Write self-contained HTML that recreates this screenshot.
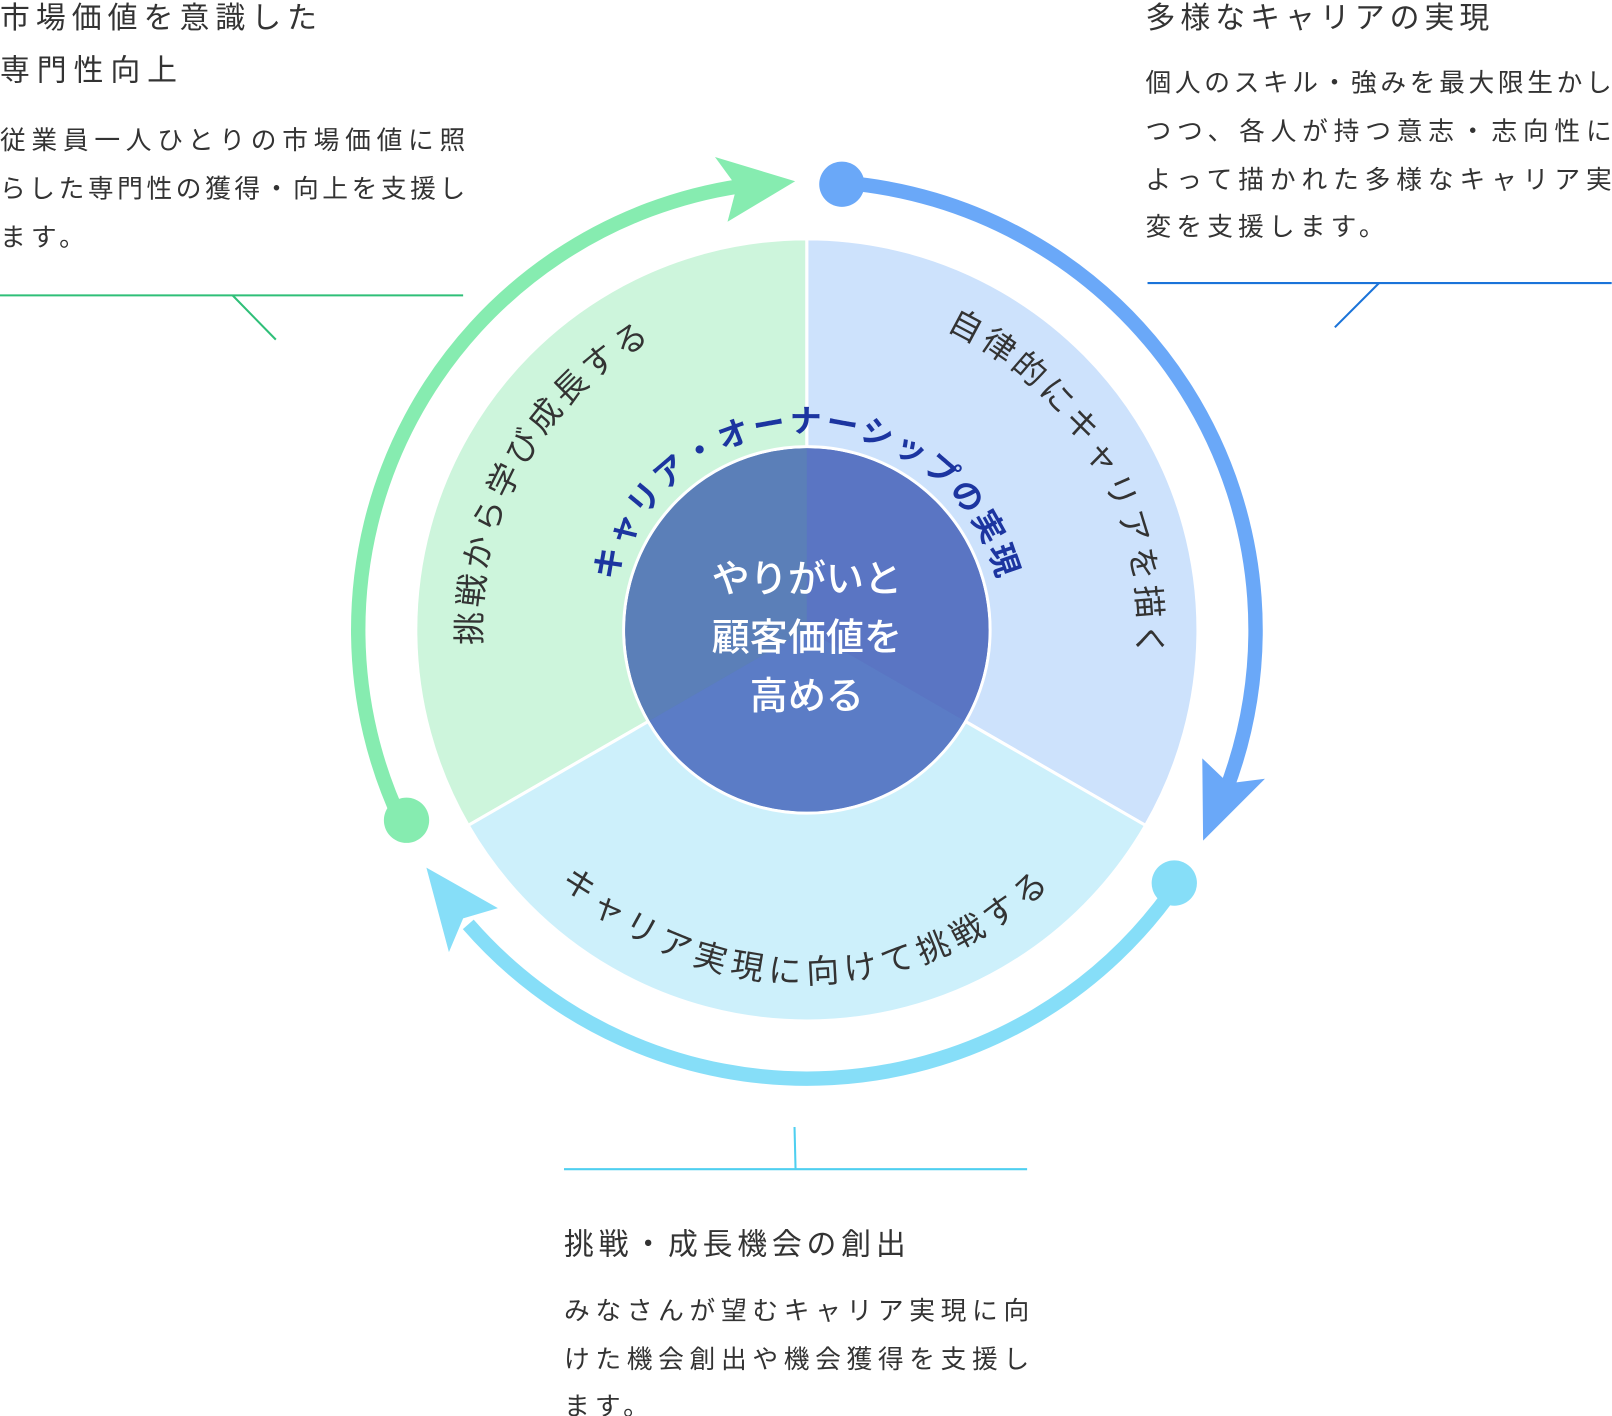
<!DOCTYPE html>
<html><head><meta charset="utf-8"><style>
html,body{margin:0;padding:0;background:#fff;}
svg{display:block;}
text{font-family:"Liberation Sans","Noto Sans CJK JP",sans-serif;}
</style></head><body>
<svg width="1612" height="1416" viewBox="0 0 1566.3 1375.8" preserveAspectRatio="none" xmlns="http://www.w3.org/2000/svg">
<defs>
<path id="pCenter" d="M 598.5 562.3 A 192 192 0 0 1 969.5 562.3"/>
<path id="pGreen" d="M 511.2 774 A 322 322 0 0 1 784 290"/>
<path id="pBlue" d="M 784 290 A 322 322 0 0 1 1062.9 773"/>
<path id="pBottom" d="M 486.9 783.5 A 343 343 0 0 0 1081.1 783.5"/>
</defs>
<path d="M784 612 L784 232 A380 380 0 0 0 454.9 802 Z" fill="#cdf5dc" stroke="#fff" stroke-width="3"/>
<path d="M784 612 L784 232 A380 380 0 0 1 1113.1 802 Z" fill="#cde2fc" stroke="#fff" stroke-width="3"/>
<path d="M784 612 L1113.1 802 A380 380 0 0 1 454.9 802 Z" fill="#cdf0fb" stroke="#fff" stroke-width="3"/>
<circle cx="784" cy="612" r="178" fill="#5a79c0" stroke="#fff" stroke-width="3"/>
<path d="M784 612 L784 435.5 A176.5 176.5 0 0 0 631.1 700.3 Z" fill="#5b7fb8"/>
<path d="M784 612 L784 435.5 A176.5 176.5 0 0 1 936.9 700.3 Z" fill="#5a75c3"/>
<path d="M784 612 L936.9 700.3 A176.5 176.5 0 0 1 631.1 700.3 Z" fill="#5b7cc6"/>
<text x="784" y="575" font-size="37" fill="#fff" text-anchor="middle" font-weight="500">やりがいと</text>
<text x="784" y="632" font-size="37" fill="#fff" text-anchor="middle" font-weight="500">顧客価値を</text>
<text x="784" y="689" font-size="37" fill="#fff" text-anchor="middle" font-weight="500">高める</text>
<text font-size="31" fill="#1c35a0" font-weight="bold" letter-spacing="3"><textPath href="#pCenter" startOffset="50%" text-anchor="middle">キャリア・オーナーシップの実現</textPath></text>
<text font-size="32" fill="#333" letter-spacing="4"><textPath href="#pGreen" startOffset="50%" text-anchor="middle">挑戦から学び成長する</textPath></text>
<text font-size="32" fill="#333" letter-spacing="4"><textPath href="#pBlue" startOffset="50%" text-anchor="middle">自律的にキャリアを描く</textPath></text>
<text font-size="32" fill="#333" letter-spacing="6"><textPath href="#pBottom" startOffset="50%" text-anchor="middle">キャリア実現に向けて挑戦する</textPath></text>
<path d="M390.2 799 A436 436 0 0 1 719.6 180.8" fill="none" stroke="#86ecb0" stroke-width="14"/>
<circle cx="395" cy="797" r="22" fill="#86ecb0"/>
<polygon points="772.6,176.1 694.7,152.6 715.8,181.4 706.9,215.4" fill="#86ecb0"/>
<path d="M818.2 177.4 A436 436 0 0 1 1191 768.3" fill="none" stroke="#6aa8f8" stroke-width="14"/>
<circle cx="818" cy="179" r="22" fill="#6aa8f8"/>
<polygon points="1169,816.7 1229.1,756.6 1193.7,761.1 1168.2,736.8" fill="#6aa8f8"/>
<path d="M1142.9 859.6 A436 436 0 0 1 455 898.1" fill="none" stroke="#86def8" stroke-width="14"/>
<circle cx="1141" cy="858" r="22" fill="#86def8"/>
<polygon points="414.3,843 436.2,925.1 450,892.3 483.8,882.3" fill="#86def8"/>
<g fill="#333">
<text x="0" y="27" font-size="29" textLength="308" lengthAdjust="spacing">市場価値を意識した</text>
<text x="0" y="78" font-size="29" textLength="172" lengthAdjust="spacing">専門性向上</text>
<text x="0" y="145" font-size="25" textLength="452" lengthAdjust="spacing">従業員一人ひとりの市場価値に照</text>
<text x="0" y="192" font-size="25" textLength="452" lengthAdjust="spacing">らした専門性の獲得・向上を支援し</text>
<text x="0" y="239" font-size="25" letter-spacing="5">ます。</text>
</g>
<line x1="0" y1="287" x2="450" y2="287" stroke="#2fbf78" stroke-width="2"/>
<line x1="226" y1="287" x2="268" y2="330" stroke="#2fbf78" stroke-width="2"/>
<g fill="#333">
<text x="1113" y="27" font-size="29" textLength="334" lengthAdjust="spacing">多様なキャリアの実現</text>
<text x="1113" y="89" font-size="25" textLength="453" lengthAdjust="spacing">個人のスキル・強みを最大限生かし</text>
<text x="1113" y="136" font-size="25" textLength="453" lengthAdjust="spacing">つつ、各人が持つ意志・志向性に</text>
<text x="1113" y="183" font-size="25" textLength="453" lengthAdjust="spacing">よって描かれた多様なキャリア実</text>
<text x="1113" y="229" font-size="25" letter-spacing="5">変を支援します。</text>
</g>
<line x1="1115" y1="275" x2="1566" y2="275" stroke="#1a73d9" stroke-width="2"/>
<line x1="1340" y1="275" x2="1297" y2="318" stroke="#1a73d9" stroke-width="2"/>
<line x1="772" y1="1095" x2="773" y2="1136" stroke="#4fcff0" stroke-width="2"/>
<line x1="548" y1="1136" x2="998" y2="1136" stroke="#4fcff0" stroke-width="2"/>
<g fill="#333">
<text x="548" y="1219" font-size="29" textLength="332" lengthAdjust="spacing">挑戦・成長機会の創出</text>
<text x="548" y="1282" font-size="25" textLength="452" lengthAdjust="spacing">みなさんが望むキャリア実現に向</text>
<text x="548" y="1329" font-size="25" textLength="452" lengthAdjust="spacing">けた機会創出や機会獲得を支援し</text>
<text x="548" y="1375" font-size="25" letter-spacing="5">ます。</text>
</g>
</svg>
</body></html>
